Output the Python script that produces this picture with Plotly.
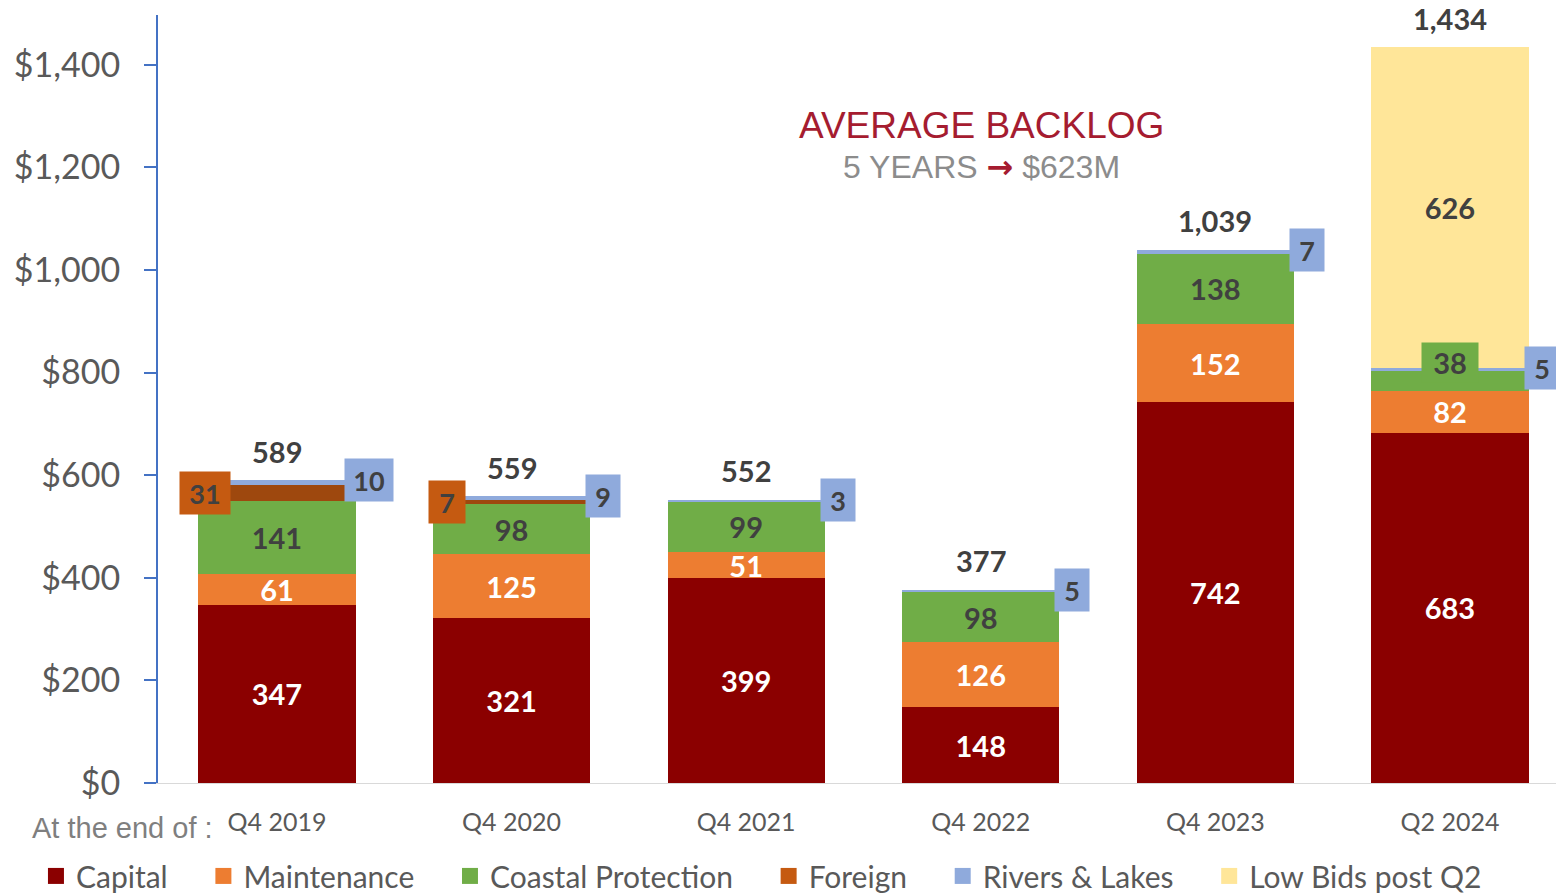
import plotly.graph_objects as go

# ---------------- data ----------------
categories = ["Q4 2019", "Q4 2020", "Q4 2021", "Q4 2022", "Q4 2023", "Q2 2024"]
capital = [347, 321, 399, 148, 742, 683]
maintenance = [61, 125, 51, 126, 152, 82]
coastal = [141, 98, 99, 98, 138, 38]
foreign = [31, 7, 0, 0, 0, 0]
rivers = [10, 9, 3, 5, 7, 5]
low_bids = [0, 0, 0, 0, 0, 626]
totals = [589, 559, 552, 377, 1039, 1434]
y_ticks = [0, 200, 400, 600, 800, 1000, 1200, 1400]
y_tick_labels = ["$0", "$200", "$400", "$600", "$800", "$1,000", "$1,200", "$1,400"]

# name, values, bar colour, in-bar text colour, box/legend colour, box placement
series = [
    ("Capital", capital, "#8B0000", "white", "#8B0000", "center"),
    ("Maintenance", maintenance, "#ED7D31", "white", "#ED7D31", "center"),
    ("Coastal Protection", coastal, "#70AD47", "#404040", "#70AD47", "center"),
    ("Foreign", foreign, "#9E480E", "#404040", "#C55A11", "left"),
    ("Rivers & Lakes", rivers, "#8FAADC", "#404040", "#8FAADC", "right"),
    ("Low Bids post Q2", low_bids, "#FFE699", "#404040", "#FFE699", "center"),
]

BAR_W = 0.67
SMALL = 40
DARK = "#404040"
FONT = "Lato"

fig = go.Figure()
annotations = []
cum = [0] * len(categories)

for name, vals, col, tcol, bcol, place in series:
    texts = []
    for i, v in enumerate(vals):
        texts.append(str(v) if v >= SMALL else "")
        if 0 < v < SMALL:
            bottom = cum[i]
            top = cum[i] + v
            if place == "right":
                annotations.append(dict(
                    x=i + BAR_W / 2, y=top, xref="x", yref="y", text=f"<b>{v}</b>",
                    showarrow=False, xanchor="center", yanchor="middle", xshift=13,
                    bgcolor=bcol, font=dict(family=FONT, size=27, color=DARK),
                    width=40 if v >= 10 else 26, height=34, borderpad=4))
            elif place == "left":
                annotations.append(dict(
                    x=i - BAR_W / 2, y=(bottom + top) / 2, xref="x", yref="y",
                    text=f"<b>{v}</b>", showarrow=False, xanchor="right", yanchor="middle",
                    xshift=33, bgcolor=bcol, font=dict(family=FONT, size=27, color=DARK),
                    width=42 if v >= 10 else 28, height=34, borderpad=4))
            else:
                annotations.append(dict(
                    x=i, y=top, xref="x", yref="y", text=f"<b>{v}</b>",
                    showarrow=False, xanchor="center", yanchor="middle", yshift=9,
                    bgcolor=bcol, font=dict(family=FONT, size=29, color=DARK),
                    width=48, height=31, borderpad=4))
        cum[i] += v
    fig.add_trace(go.Bar(
        x=categories, y=vals, name=name, width=BAR_W, marker=dict(color=col, line=dict(width=0)),
        text=texts, texttemplate="<b>%{text}</b>", textposition="inside",
        insidetextanchor="middle", textangle=0,
        textfont=dict(family=FONT, size=29, color=tcol),
        showlegend=False, hoverinfo="skip"))

# legend entries
for k, (name, vals, col, tcol, bcol, place) in enumerate(series):
    pad = "&nbsp;&nbsp;&nbsp;&nbsp;" if k < len(series) - 1 else ""
    fig.add_trace(go.Scatter(
        x=[None], y=[None], mode="markers", name=name + pad,
        marker=dict(symbol="square", size=18, color=bcol), showlegend=True))

# totals
for i, t in enumerate(totals):
    annotations.append(dict(
        x=i, y=t, xref="x", yref="y", text=f"<b>{t:,}</b>", showarrow=False,
        yanchor="middle", yshift=29, font=dict(family=FONT, size=29, color=DARK)))

# average backlog callout
annotations.append(dict(
    x=0.589, y=0.856, xref="paper", yref="paper", text="AVERAGE BACKLOG",
    showarrow=False, xanchor="center", yanchor="middle",
    font=dict(family="Liberation Sans", size=37, color="#A51C30")))
annotations.append(dict(
    x=0.589, y=0.802, xref="paper", yref="paper",
    text="5 YEARS <span style='color:#A51C30;font-family:DejaVu Sans;font-weight:bold'>→</span> $623M",
    showarrow=False, xanchor="center", yanchor="middle",
    font=dict(family="Liberation Sans", size=32, color="#8C8C8C")))
annotations.append(dict(
    x=-0.0916, y=-0.0583, xref="paper", yref="paper", text="At the end of :",
    showarrow=False, xanchor="left", yanchor="middle",
    font=dict(family="Liberation Sans", size=29, color="#7F7F7F")))

fig.update_layout(
    width=1556, height=894,
    margin=dict(l=158, r=0, t=15, b=111, autoexpand=False),
    barmode="stack",
    plot_bgcolor="white", paper_bgcolor="white",
    uniformtext=dict(minsize=29, mode="show"),
    annotations=annotations,
    legend=dict(orientation="h", xref="paper", x=-0.0873, xanchor="left",
                yref="paper", y=-0.121, yanchor="middle", traceorder="normal",
                font=dict(family=FONT, size=30, color="#595959"),
                itemsizing="trace", tracegroupgap=0, bgcolor="rgba(0,0,0,0)"),
    xaxis=dict(range=[-0.507, 5.452], showline=True, linecolor="#D9D9D9", linewidth=1,
               ticks="", showgrid=False, tickfont=dict(family=FONT, size=25, color="#595959"),
               ticklabelstandoff=17, fixedrange=True),
    yaxis=dict(range=[0, 1497], tickmode="array", tickvals=y_ticks, ticktext=y_tick_labels,
               showgrid=False, zeroline=False, showline=True, linecolor="#4472C4",
               linewidth=2, ticks="outside", ticklen=12, tickwidth=2, tickcolor="#4472C4",
               tickfont=dict(family=FONT, size=34, color="#595959"), ticklabelstandoff=17,
               fixedrange=True),
)

fig.write_html("out.html", config={"displayModeBar": False},
               post_script="document.body.style.margin='0px';")
